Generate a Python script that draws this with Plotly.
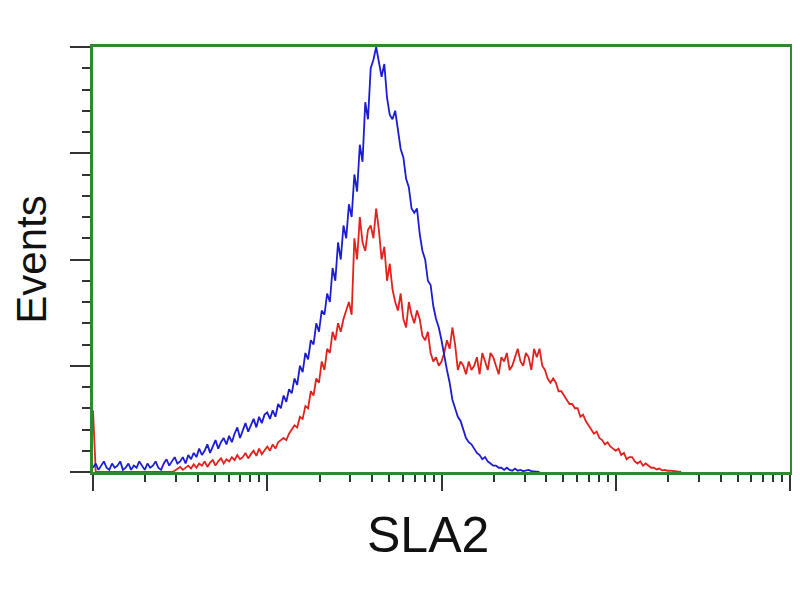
import plotly.graph_objects as go

# Histogram channels: log-spaced bins, 64 per decade, channel 0 at 10^0
BINS_PER_DECADE = 64

blue_counts = [
    # ch 0-31
    1, 2, 0.5, 1.5, 2.5, 1, 0.5, 2, 1, 1.5, 2.5, 0.5, 1, 2, 0.5, 1.5,
    1, 2.5, 1.5, 0.5, 2, 1, 1.5, 2.5, 1, 0.5, 2, 3, 1.5, 2.5, 3.5, 2,
    # ch 32-63
    2.5, 3.5, 2, 4, 3, 4.5, 3.5, 5.5, 4, 5, 6.5, 4.5, 6, 7.5, 5.5, 7,
    8, 6.5, 8.5, 7, 9, 10.5, 8, 10, 11.5, 9.5, 11, 12.5, 10.5, 13, 11.5, 13.5,
    # ch 64-95
    14, 12.5, 14.5, 13, 16, 15, 18, 16.5, 19.5, 18.5, 22, 20.5, 25, 23.5, 28, 26.5,
    31, 30, 35, 33, 38, 37, 42, 40, 48, 45, 54, 50, 58, 55, 63, 60,
    # ch 96-127
    70, 66, 77, 73, 87, 83, 95, 97, 100, 96, 93, 96, 88, 84, 83, 85,
    80, 76, 74, 69, 67, 62, 61, 62, 56, 52, 50, 45, 44, 39, 36, 34,
    # ch 128-164
    31, 27, 24, 21, 17, 15, 13, 12, 10, 8, 7, 6.5, 5.5, 4.5, 4, 3,
    3.5, 2.5, 2, 1.5, 1.5, 1, 1, 0.5, 1, 0.5, 0.3, 0.8, 0.3, 0.5, 0.2, 0.4,
    0.5, 0.2, 0.2, 0.1, 0,
]

red_counts = [
    # ch 0-29
    14.5, 0, 0, 0, 0, 0, 0, 0, 0, 0, 0, 0, 0, 0, 0, 0,
    0, 0, 0, 0, 0, 0, 0, 0, 0, 0, 0, 0, 0, 0,
    # ch 30-63
    0.3, 0.8, 1.2, 0.5, 1, 1.5, 0.8, 1.8, 1, 2, 1.5, 2.5, 1.2, 2.2, 2.8, 1.5,
    2.5, 3.2, 2, 3, 2.5, 3.5, 2.8, 4, 3, 3.5, 4.5, 3.2, 4.2, 5, 3.8, 5.5,
    4.2, 5.2,
    # ch 64-95
    6, 5, 6.5, 5.5, 7, 7.5, 8, 7.5, 9, 10, 11, 10.5, 13, 12.5, 15.5, 15,
    19, 18, 22, 21, 26, 24, 29, 28, 33, 31, 35, 33, 36, 38, 40, 37,
    # ch 96-127
    55, 50, 60, 54, 52, 57, 58, 55, 62, 57, 50, 53, 45, 49, 43, 40,
    38, 42, 36, 34, 40, 37, 35, 38, 36, 32, 31, 33, 28, 26, 27, 25,
    # ch 128-159
    26, 28, 31, 29, 34, 30, 24, 26, 25, 23, 26, 24, 25, 27, 23, 28,
    26, 24, 28, 27, 25, 23, 27, 26, 28, 24, 25, 27, 29, 26, 25, 28,
    # ch 160-191
    27, 24, 29, 27, 29, 25, 24, 22, 21, 22, 21, 19, 19, 18, 17, 16,
    16, 15, 15, 13, 13.5, 12, 11, 10, 9, 9.5, 8, 7.5, 6.5, 7, 6, 5.5,
    # ch 192-216
    5, 5.5, 4, 4.5, 3, 3.5, 3.5, 2.5, 2, 2.5, 1.5, 2, 1.5, 1, 1, 0.6,
    0.8, 0.4, 0.5, 0.3, 0.3, 0.2, 0.1, 0, 0,
]

blue_x = [10 ** (i / BINS_PER_DECADE) for i in range(len(blue_counts))]
red_x = [10 ** (i / BINS_PER_DECADE) for i in range(len(red_counts))]

x_major = [1, 10, 100, 1000, 10000]
x_minor = [k * 10 ** d for d in range(4) for k in range(2, 10)]

fig = go.Figure()
fig.add_trace(go.Scatter(x=red_x, y=red_counts, mode="lines",
                         line=dict(color="#e0221f", width=1.8),
                         showlegend=False))
fig.add_trace(go.Scatter(x=blue_x, y=blue_counts, mode="lines",
                         line=dict(color="#1c1cd0", width=1.8),
                         showlegend=False))

axis_green = "#2f8a2f"
tick_col = "#333333"
title_font = dict(family="Liberation Sans, Arial", color="#111111")

fig.update_xaxes(
    type="log", range=[0, 4], showline=True, mirror=True, linecolor=axis_green,
    linewidth=3, showgrid=False, zeroline=False, showticklabels=False,
    automargin=False,
    ticks="outside", tickmode="array", tickvals=x_major, ticklen=16,
    tickwidth=2, tickcolor=tick_col, layer="below traces",
    minor=dict(tickmode="array", tickvals=x_minor, ticks="outside",
               ticklen=7, tickwidth=2, tickcolor=tick_col, showgrid=False),
)
fig.update_yaxes(
    range=[0, 100], showline=True, mirror=True, linecolor=axis_green,
    linewidth=3, showgrid=False, zeroline=False, showticklabels=False,
    automargin=False,
    ticks="outside", tickmode="linear", tick0=0, dtick=25, ticklen=20,
    tickwidth=2, tickcolor=tick_col, layer="below traces",
    minor=dict(tick0=0, dtick=5, ticks="outside", ticklen=8, tickwidth=2,
               tickcolor=tick_col, showgrid=False),
    title=dict(text="Events", font=dict(size=42, **title_font), standoff=20),
)

fig.add_annotation(text="SLA2", xref="paper", yref="paper", x=0.481, y=-0.148,
                   showarrow=False,
                   font=dict(size=50, **title_font),
                   xanchor="center", yanchor="middle")

fig.update_layout(
    width=792, height=592, margin=dict(l=85, r=10, t=39, b=128),
    paper_bgcolor="white", plot_bgcolor="white",
)

fig.write_html("out.html")
